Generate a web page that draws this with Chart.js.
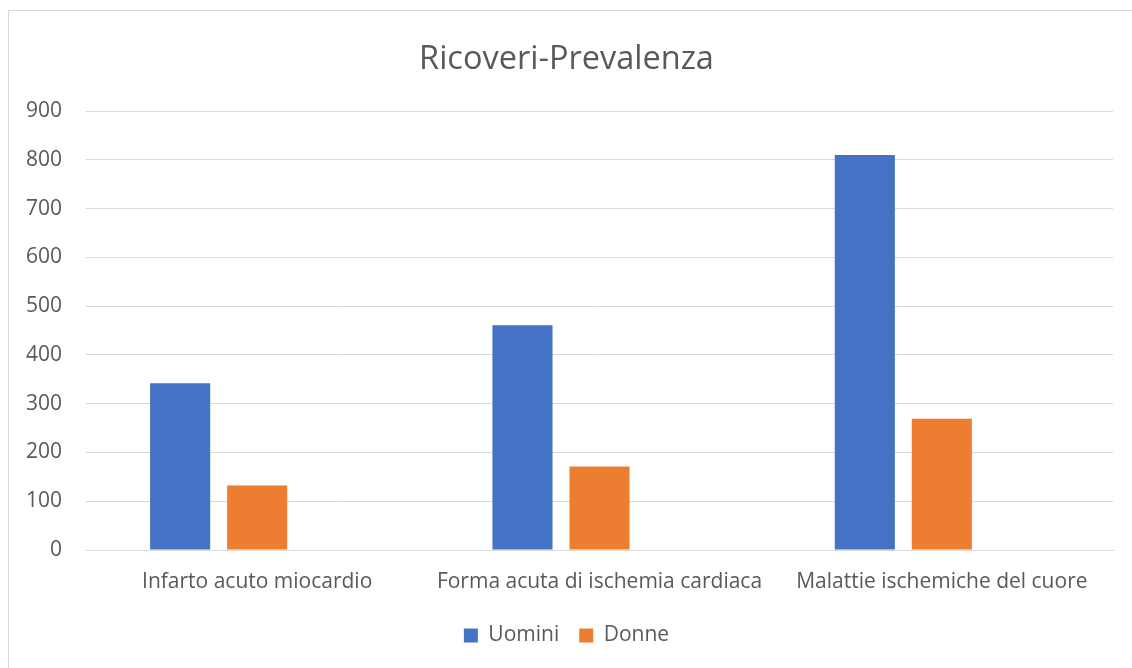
<!DOCTYPE html>
<html>
<head>
<meta charset="utf-8">
<script src="https://cdn.jsdelivr.net/npm/chart.js@4/dist/chart.umd.min.js"></script>
<style>
  html, body { margin: 0; padding: 0; background: #fff; }
  #box { position: absolute; left: 8px; top: 10px; width: 1130px; height: 664px; border: 1px solid #d9d9d9; box-sizing: border-box; }
  #wrap { position: absolute; left: 0; top: 0; width: 1132px; height: 668px; }
</style>
</head>
<body>
<div id="box"></div>
<div id="wrap"><canvas id="miChart" width="1132" height="668"></canvas></div>
<script>
// Dati del grafico
const categorie = ["Infarto acuto miocardio", "Forma acuta di ischemia cardiaca", "Malattie ischemiche del cuore"];
const uomini = [342, 461, 810];
const donne = [132, 171, 269];
const vuota = [null, null, null]; // terza serie vuota (spazio a destra dei gruppi)
const tickY = [0, 100, 200, 300, 400, 500, 600, 700, 800, 900];

const font = "'Open Sans', 'Liberation Sans', sans-serif";
const grigio = "#595959";

new Chart(document.querySelector("#miChart"), {
    type: 'bar',
    data: {
        labels: categorie,
        datasets: [
            { label: 'Uomini', data: uomini, backgroundColor: '#4472c4' },
            { label: 'Donne', data: donne, backgroundColor: '#ed7d31' },
            { label: '', data: vuota, backgroundColor: '#a5a5a5' }
        ]
    },
    options: {
        responsive: false,
        animation: false,
        layout: { padding: { left: 20, right: 19, top: 0, bottom: 12 } },
        datasets: { bar: { categoryPercentage: 0.675, barPercentage: 0.78 } },
        plugins: {
            title: {
                display: true, text: 'Ricoveri-Prevalenza', color: grigio,
                font: { family: font, size: 32.5, weight: 'normal' },
                padding: { top: 40, bottom: 32 }
            },
            legend: {
                position: 'bottom',
                labels: {
                    color: grigio, font: { family: font, size: 21 },
                    boxWidth: 14, boxHeight: 14, padding: 20,
                    filter: (item) => item.text !== ''
                }
            },
            tooltip: { enabled: false }
        },
        scales: {
            x: {
                grid: { display: false },
                border: { color: '#d9d9d9', width: 1 },
                afterFit: (axis) => { axis.height = 55; },
                ticks: { color: grigio, font: { family: font, size: 21 }, padding: 11, maxRotation: 0 }
            },
            y: {
                min: 0, max: 900,
                afterBuildTicks: (axis) => { axis.ticks = tickY.map(v => ({ value: v })); },
                afterFit: (axis) => { axis.width = 66; },
                grid: { color: '#d9d9d9', lineWidth: 1, drawTicks: false },
                border: { display: false },
                ticks: { color: grigio, font: { family: font, size: 21 }, padding: 24 }
            }
        }
    }
});
</script>
</body>
</html>
